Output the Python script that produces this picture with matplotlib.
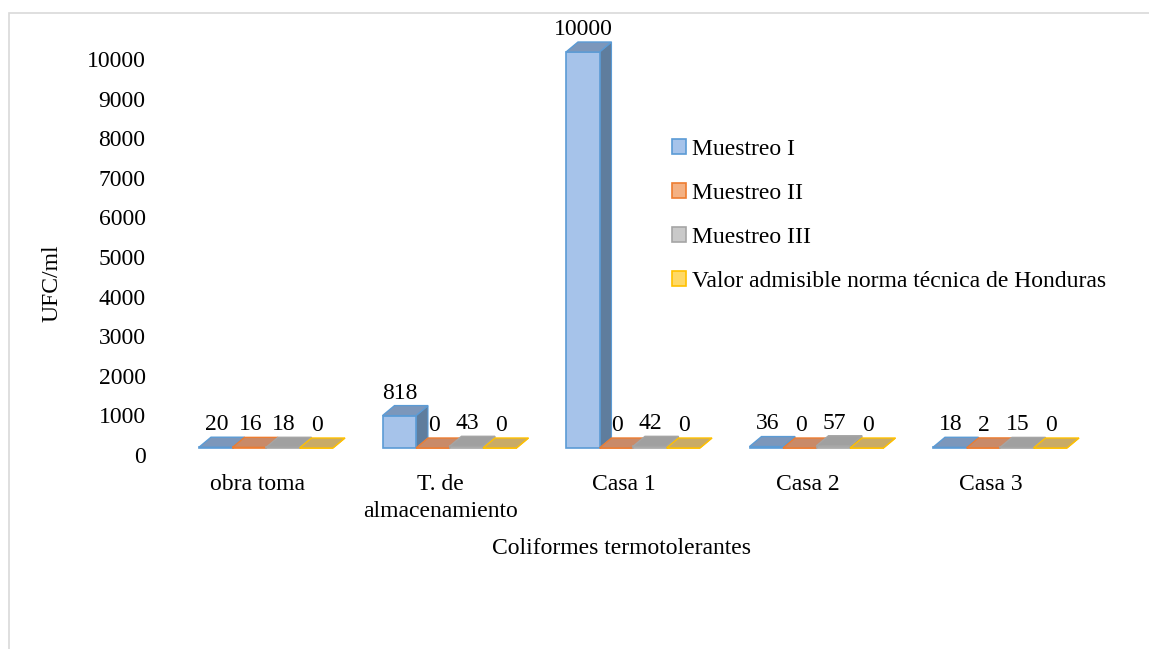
import numpy as np
import matplotlib.pyplot as plt
from matplotlib.patches import Polygon, Rectangle, Patch
from matplotlib.transforms import ScaledTranslation

plt.rcParams['font.family'] = ['Liberation Serif', 'DejaVu Serif']
plt.rcParams['font.size'] = 17

categories = ['obra toma', 'T. de\nalmacenamiento', 'Casa 1', 'Casa 2', 'Casa 3']
series_names = ['Muestreo I', 'Muestreo II', 'Muestreo III',
                'Valor admisible norma técnica de Honduras']
muestreo_1 = [20, 818, 10000, 36, 18]
muestreo_2 = [16, 0, 0, 0, 2]
muestreo_3 = [18, 43, 42, 57, 15]
valor_norma = [0, 0, 0, 0, 0]
yticks = [0, 1000, 2000, 3000, 4000, 5000, 6000, 7000, 8000, 9000, 10000]

values = [muestreo_1, muestreo_2, muestreo_3, valor_norma]
# front, edge, top, side colours per series
front_cols = ['#a6c3ea', '#f4b183', '#c9c9c9', '#ffd966']
edge_cols = ['#5b9bd5', '#ed7d31', '#a5a5a5', '#ffc000']
top_cols = ['#7c97bb', '#c98a68', '#a0a0a0', '#c9ab66']
side_cols = ['#5f7d9d', '#b06a45', '#8a8a8a', '#b09040']

W, H = 1149, 649
fig = plt.figure(figsize=(W / 100, H / 100), dpi=100)

# outer chart border (cropped on right/bottom)
fig.patches.append(Rectangle((9 / W, -0.1), 1.2, (H - 13) / H + 0.1,
                             transform=fig.transFigure, fill=False,
                             edgecolor='#d9d9d9', linewidth=1.2))

ax_l, ax_r, ax_b, ax_t = 190, 1100, 448, 30
ax = fig.add_axes([ax_l / W, (H - ax_b) / H, (ax_r - ax_l) / W, (ax_b - ax_t) / H])
px_x = 183.5
px_y = 396 / 10000
x0 = 266
ax.set_xlim(-(x0 - ax_l) / px_x, (ax_r - x0) / px_x)
ax.set_ylim(0, (ax_b - ax_t) / px_y)
for s in ax.spines.values():
    s.set_visible(False)

bw = 33.5 / px_x
gw = 4 * bw
ddx = 12 / px_x
ddy = 10 / px_y

x = np.arange(len(categories))
for i in x:
    for j in range(4):
        v = values[j][i]
        xl = i - gw / 2 + j * bw
        side = Polygon([(xl + bw, 0), (xl + bw, v), (xl + bw + ddx, v + ddy),
                        (xl + bw + ddx, ddy)], closed=True,
                       facecolor=side_cols[j], edgecolor=edge_cols[j],
                       linewidth=0.8, clip_on=False)
        ax.add_patch(side)
        front = Rectangle((xl, 0), bw, v, facecolor=front_cols[j],
                          edgecolor=edge_cols[j], linewidth=1.2, clip_on=False)
        ax.add_patch(front)
        top = Polygon([(xl, v), (xl + bw, v), (xl + bw + ddx, v + ddy),
                       (xl + ddx, v + ddy)], closed=True,
                      facecolor=top_cols[j], edgecolor=edge_cols[j],
                      linewidth=1.0, clip_on=False)
        ax.add_patch(top)
        ax.annotate(str(v), (xl + bw / 2 + 1 / px_x, v + ddy), xytext=(0, 1.5),
                    textcoords='offset points', ha='center', va='bottom',
                    fontsize=17, annotation_clip=False)

ax.set_xticks(x)
ax.set_xticklabels(categories, linespacing=1.37)
ax.set_yticks(yticks)
ax.set_yticklabels([str(t) for t in yticks])
ax.tick_params(axis='both', length=0, labelsize=17)
ax.tick_params(axis='y', pad=32)
ax.tick_params(axis='x', pad=19)
off_x = ScaledTranslation(-9 / 100, 0, fig.dpi_scale_trans)
for lab in ax.get_xticklabels():
    lab.set_transform(lab.get_transform() + off_x)
off_y = ScaledTranslation(0, -7 / 100, fig.dpi_scale_trans)
for lab in ax.get_yticklabels():
    lab.set_transform(lab.get_transform() + off_y)

fig.text(622 / W, 1 - 549 / H, 'Coliformes termotolerantes', ha='center',
         va='center', fontsize=17)
fig.text(52 / W, 1 - 283 / H, 'UFC/ml', ha='center', va='center',
         rotation=90, fontsize=17)

handles = [Patch(facecolor=front_cols[j], edgecolor=edge_cols[j], linewidth=1.2)
           for j in range(4)]
fig.legend(handles, series_names, loc='upper left',
           bbox_to_anchor=(672 / W, 1 - 139 / H), frameon=False,
           handlelength=0.6, handleheight=0.6, handletextpad=0.25,
           labelspacing=0.97, borderaxespad=0, borderpad=0, fontsize=17)

fig.savefig('out.png', dpi=100)
